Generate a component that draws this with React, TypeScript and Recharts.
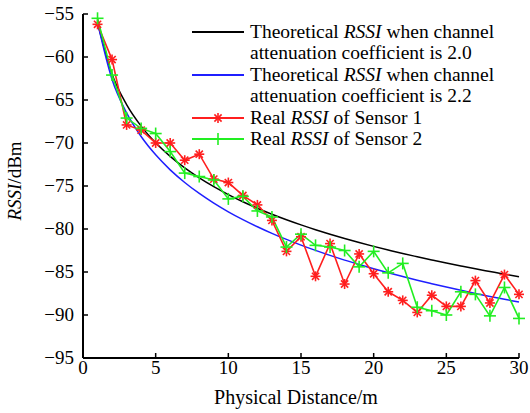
import { ComposedChart, Legend, Line, XAxis, YAxis } from "recharts";

const distances = [
  1, 2, 3, 4, 5, 6, 7, 8, 9, 10, 11, 12, 13, 14, 15, 16, 17, 18, 19, 20, 21,
  22, 23, 24, 25, 26, 27, 28, 29, 30,
];

// theoretical RSSI, attenuation coefficient 2.0
const theory20 = [
  -56, -62.02, -65.54, -68.04, -69.98, -71.56, -72.9, -74.06, -75.08, -76,
  -76.83, -77.58, -78.28, -78.92, -79.52, -80.08, -80.61, -81.11, -81.58,
  -82.02, -82.44, -82.85, -83.23, -83.6, -83.96, -84.3, -84.63, -84.94, -85.25,
  -85.54,
];

// theoretical RSSI, attenuation coefficient 2.2
const theory22 = [
  -56, -62.62, -66.5, -69.25, -71.38, -73.12, -74.59, -75.87, -76.99, -78,
  -78.91, -79.74, -80.51, -81.21, -81.87, -82.49, -83.07, -83.62, -84.13,
  -84.62, -85.09, -85.53, -85.96, -86.36, -86.75, -87.13, -87.49, -87.84,
  -88.17, -88.5,
];

const sensor1 = [
  -56.2, -60.3, -67.9, -68.5, -70, -70, -72, -71.3, -74.2, -74.6, -76.1,
  -77.2, -79, -82.6, -80.9, -85.5, -81.7, -86.4, -82.9, -85.2, -87.3, -88.3,
  -89.7, -87.7, -89, -89, -86, -88.6, -85.3, -87.6,
];

const sensor2 = [
  -55.5, -62.1, -67.1, -68.3, -68.9, -71, -73.5, -73.9, -74.3, -76.5, -76.2,
  -77.9, -78.6, -82.1, -80.6, -81.9, -82.1, -82.5, -84.4, -82.6, -85.1, -84,
  -89.1, -89.5, -90, -87.3, -87.6, -90.1, -86.8, -90.4,
];

const xTicks = [0, 5, 10, 15, 20, 25, 30];
const yTicks = [-95, -90, -85, -80, -75, -70, -65, -60, -55];
const legendOrder = ["t20", "t22", "s1", "s2"];

const data = distances.map((d, i) => ({
  d,
  t20: theory20[i],
  t22: theory22[i],
  s1: sensor1[i],
  s2: sensor2[i],
}));

const FONT = "Liberation Serif";
const W = 530;
const H = 413;
const TOP = 14;
const BOTTOM = 358;
const LEFT = 83;
const RIGHT = 519;
const RED = "#ff1f1f";
const GREEN = "#22ee22";
const BLUE = "#1f1fff";

const minus = (v: number) => String(v).replace("-", "\u2212");

function XTick({ x, payload }: any) {
  return (
    <g>
      <line x1={x} x2={x} y1={BOTTOM} y2={BOTTOM - 5} stroke="#000" strokeWidth={1.5} />
      <text x={x} y={BOTTOM + 16} textAnchor="middle" fontSize={19} fontFamily={FONT} fill="#000">
        {payload.value}
      </text>
    </g>
  );
}

function YTick({ y, payload }: any) {
  return (
    <g>
      <line x1={LEFT} x2={LEFT + 5} y1={y} y2={y} stroke="#000" strokeWidth={1.5} />
      <text x={LEFT - 9} y={y + 6} textAnchor="end" fontSize={19} fontFamily={FONT} fill="#000">
        {minus(payload.value)}
      </text>
    </g>
  );
}

function StarDot({ cx, cy }: any) {
  const r = 5;
  const q = 3.6;
  return (
    <g stroke={RED} strokeWidth={1.6}>
      <line x1={cx - r} x2={cx + r} y1={cy} y2={cy} />
      <line x1={cx} x2={cx} y1={cy - r} y2={cy + r} />
      <line x1={cx - q} x2={cx + q} y1={cy - q} y2={cy + q} />
      <line x1={cx - q} x2={cx + q} y1={cy + q} y2={cy - q} />
    </g>
  );
}

function PlusDot({ cx, cy }: any) {
  const r = 6;
  return (
    <g stroke={GREEN} strokeWidth={1.6}>
      <line x1={cx - r} x2={cx + r} y1={cy} y2={cy} />
      <line x1={cx} x2={cx} y1={cy - r} y2={cy + r} />
    </g>
  );
}

function withRssi(text: string) {
  const parts = text.split("RSSI");
  return parts.map((p, i) => (
    <span key={i}>
      {p}
      {i < parts.length - 1 && <i>RSSI</i>}
    </span>
  ));
}

function LegendContent({ payload }: any) {
  const items = [...(payload || [])].sort(
    (a: any, b: any) => legendOrder.indexOf(a.dataKey) - legendOrder.indexOf(b.dataKey),
  );
  return (
    <div style={{ fontFamily: FONT, fontSize: 19.5, lineHeight: "21.4px", color: "#000" }}>
      {items.map((entry: any) => {
        const lines = String(entry.value).split("\n");
        const key = entry.dataKey;
        return (
          <div key={key} style={{ display: "flex", alignItems: "flex-start" }}>
            <svg width={58} height={21} style={{ flex: "none" }}>
              <line x1={0} x2={52} y1={11} y2={11} stroke={entry.color} strokeWidth={1.8} />
              {key === "s1" && <StarDot cx={26} cy={11} />}
              {key === "s2" && <PlusDot cx={26} cy={11} />}
            </svg>
            <div style={{ whiteSpace: "nowrap" }}>
              {lines.map((l, i) => (
                <div key={i}>{withRssi(l)}</div>
              ))}
            </div>
          </div>
        );
      })}
    </div>
  );
}

export default function App() {
  return (
    <div style={{ position: "absolute", left: 0, top: 0, background: "#fff", fontFamily: FONT }}>
      <ComposedChart
        width={W}
        height={H}
        data={data}
        margin={{ top: TOP, right: W - RIGHT, bottom: H - BOTTOM - 30, left: LEFT - 60 }}
      >
        <XAxis
          dataKey="d"
          type="number"
          domain={[0, 30]}
          ticks={xTicks}
          height={30}
          axisLine={{ stroke: "#000", strokeWidth: 2 }}
          tickLine={false}
          tick={XTick}
          interval={0}
        />
        <XAxis
          xAxisId="top"
          orientation="top"
          type="number"
          domain={[0, 30]}
          height={0}
          axisLine={{ stroke: "#000", strokeWidth: 2 }}
          tick={false}
          tickLine={false}
        />
        <YAxis
          type="number"
          domain={[-95, -55]}
          ticks={yTicks}
          width={60}
          axisLine={{ stroke: "#000", strokeWidth: 2 }}
          tickLine={false}
          tick={YTick}
          interval={0}
        />
        <YAxis
          yAxisId="right"
          orientation="right"
          type="number"
          domain={[-95, -55]}
          width={0}
          axisLine={{ stroke: "#000", strokeWidth: 2 }}
          tick={false}
          tickLine={false}
        />
        <Legend
          layout="vertical"
          align="center"
          verticalAlign="middle"
          content={LegendContent}
          wrapperStyle={{ left: 192, top: 21, width: 330 }}
        />
        <Line
          dataKey="t20"
          name={"Theoretical RSSI when channel\nattenuation coefficient is 2.0"}
          type="monotone"
          stroke="#000"
          strokeWidth={1.5}
          dot={false}
          isAnimationActive={false}
        />
        <Line
          dataKey="t22"
          name={"Theoretical RSSI when channel\nattenuation coefficient is 2.2"}
          type="monotone"
          stroke={BLUE}
          strokeWidth={1.5}
          dot={false}
          isAnimationActive={false}
        />
        <Line
          dataKey="s1"
          name="Real RSSI of Sensor 1"
          type="linear"
          stroke={RED}
          strokeWidth={1.6}
          dot={StarDot}
          isAnimationActive={false}
        />
        <Line
          dataKey="s2"
          name="Real RSSI of Sensor 2"
          type="linear"
          stroke={GREEN}
          strokeWidth={1.6}
          dot={PlusDot}
          isAnimationActive={false}
        />
        <text
          x={296}
          y={404}
          textAnchor="middle"
          fontSize={20}
          fontFamily={FONT}
          fill="#000"
        >
          Physical Distance/m
        </text>
        <text
          transform="translate(21,181) rotate(-90)"
          textAnchor="middle"
          fontSize={19}
          fontFamily={FONT}
          fill="#000"
        >
          <tspan fontStyle="italic">RSSI</tspan>/dBm
        </text>
      </ComposedChart>
    </div>
  );
}
